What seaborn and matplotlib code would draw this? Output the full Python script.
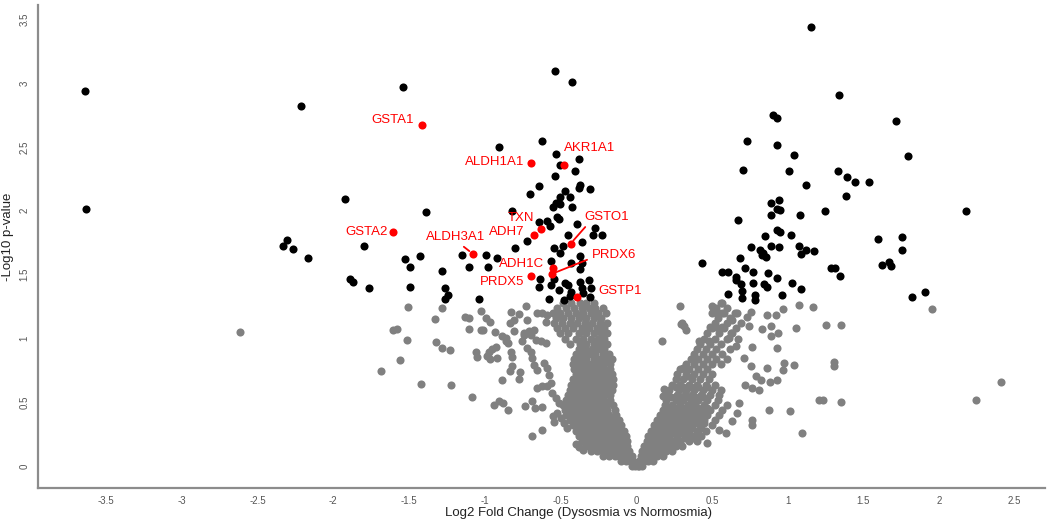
import matplotlib
matplotlib.use("Agg")
import pandas as pd
import matplotlib.pyplot as plt
import seaborn as sns
from matplotlib import font_manager

# ---- data (log2 FC, -log10 p) ----
# highlighted genes (red)
genes = ["GSTA1", "ALDH1A1", "AKR1A1", "TXN", "ADH7", "GSTO1",
         "GSTA2", "ALDH3A1", "ADH1C", "PRDX6", "PRDX5", "GSTP1"]
gene_fc = [-1.417, -0.695, -0.474, -0.631, -0.675, -0.433,
           -1.608, -1.080, -0.552, -0.558, -0.697, -0.388]
gene_p = [2.669, 2.373, 2.357, 1.860, 1.808, 1.742,
          1.836, 1.664, 1.555, 1.505, 1.490, 1.326]

# significant (black), p < 0.05
sig_pts = [
    (-3.638, 2.935), (-3.631, 2.013), (-2.211, 2.818), (-1.921, 2.091), (-2.304, 1.771),
    (-2.335, 1.727), (-2.264, 1.700), (-1.798, 1.722), (-2.168, 1.628), (-1.892, 1.466),
    (-1.868, 1.440), (-1.765, 1.398), (-1.542, 2.969), (-1.390, 1.990), (-1.527, 1.623),
    (-1.428, 1.646), (-1.496, 1.563), (-1.285, 1.531), (-1.491, 1.406), (-1.263, 1.398),
    (-1.240, 1.344), (-1.263, 1.313), (-1.148, 1.654), (-0.992, 1.654), (-0.917, 1.628),
    (-1.104, 1.563), (-0.979, 1.563), (-1.036, 1.308), (-0.906, 2.498),
    (-0.534, 3.097), (-0.421, 3.011), (-0.620, 2.547), (-0.527, 2.446), (-0.505, 2.355),
    (-0.378, 2.401), (-0.406, 2.310), (-0.536, 2.269), (-0.642, 2.195), (-0.699, 2.133),
    (-0.371, 2.201), (-0.378, 2.180), (-0.307, 2.167), (-0.470, 2.151), (-0.505, 2.109),
    (-0.435, 2.107), (-0.532, 2.060), (-0.505, 2.050), (-0.549, 2.029), (-0.421, 2.031),
    (-0.820, 1.998), (-0.523, 1.953), (-0.512, 1.935), (-0.642, 1.914), (-0.587, 1.922),
    (-0.569, 1.880), (-0.721, 1.763), (-0.393, 1.898), (-0.269, 1.865), (-0.285, 1.810),
    (-0.228, 1.813), (-0.450, 1.808), (-0.358, 1.755), (-0.485, 1.727), (-0.543, 1.706),
    (-0.800, 1.711), (-0.563, 1.609), (-0.503, 1.672), (-0.369, 1.649), (-0.433, 1.594),
    (-0.355, 1.594), (-0.369, 1.542), (-0.633, 1.466), (-0.543, 1.466), (-0.470, 1.438),
    (-0.450, 1.420), (-0.373, 1.445), (-0.312, 1.459), (-0.565, 1.420), (-0.642, 1.406),
    (-0.510, 1.380), (-0.431, 1.362), (-0.360, 1.393), (-0.300, 1.393), (-0.351, 1.354),
    (-0.576, 1.313), (-0.474, 1.302), (-0.439, 1.331), (-0.303, 1.328), (0.433, 1.594),
    (1.157, 3.440), (1.342, 2.909), (0.906, 2.748), (0.928, 2.724), (1.719, 2.706),
    (0.734, 2.547), (0.928, 2.513), (1.042, 2.438), (1.798, 2.427), (0.708, 2.318),
    (1.007, 2.310), (1.333, 2.310), (1.392, 2.261), (1.443, 2.227), (1.540, 2.227),
    (1.121, 2.201), (1.386, 2.115), (0.893, 2.058), (0.943, 2.081), (0.928, 2.013),
    (0.950, 2.005), (0.893, 1.964), (0.670, 1.930), (1.085, 1.964), (1.250, 1.998),
    (2.176, 1.998), (0.932, 1.847), (0.950, 1.831), (0.849, 1.800), (1.024, 1.810),
    (1.597, 1.779), (1.756, 1.795), (0.756, 1.719), (0.893, 1.727), (0.943, 1.714),
    (1.078, 1.727), (0.818, 1.693), (0.840, 1.667), (0.855, 1.641), (0.829, 1.654),
    (1.120, 1.693), (1.177, 1.685), (1.087, 1.661), (1.756, 1.693), (0.686, 1.628),
    (0.565, 1.519), (0.604, 1.519), (0.717, 1.550), (0.774, 1.524), (0.870, 1.516),
    (0.657, 1.484), (0.662, 1.459), (0.933, 1.472), (0.695, 1.425), (0.772, 1.433),
    (0.844, 1.425), (0.862, 1.406), (1.027, 1.433), (1.087, 1.388), (0.699, 1.373),
    (0.606, 1.349), (0.785, 1.341), (0.785, 1.305), (0.699, 1.315), (0.963, 1.341),
    (1.285, 1.550), (1.313, 1.550), (1.349, 1.492), (1.626, 1.576), (1.668, 1.597),
    (1.686, 1.566), (1.820, 1.328), (1.910, 1.365),
]

# not significant (grey): scattered points
ns_scatter = [
    (-2.619, 1.052), (-1.688, 0.748), (-1.604, 1.063), (-1.577, 1.073), (-1.511, 0.990),
    (-1.562, 0.834), (-1.419, 0.646), (-1.225, 0.633), (-1.505, 1.245), (-1.285, 1.242),
    (-1.329, 1.154), (-1.131, 1.172), (-1.102, 1.159), (-1.027, 1.219), (-0.994, 1.164),
    (-0.968, 1.133), (-1.104, 1.073), (-1.027, 1.068), (-1.320, 0.969), (-1.280, 0.925),
    (-1.232, 0.911), (-1.087, 0.539), (-1.056, 0.898), (-1.049, 0.859), (-1.012, 1.063),
    (-0.933, 1.047), (-0.884, 1.016), (-0.862, 0.982), (-0.847, 0.964), (-0.972, 0.898),
    (-0.950, 0.917), (-0.928, 0.930), (-0.987, 0.865), (-0.966, 0.839), (-0.917, 0.847),
    (-0.829, 0.891), (-0.822, 0.852), (-0.888, 0.672), (-0.822, 0.787), (-0.834, 0.748),
    (-0.767, 0.734), (-0.774, 0.683), (-0.939, 0.482), (-0.906, 0.513), (-0.877, 0.495),
    (-0.844, 0.438), (-0.734, 0.469), (-0.690, 0.240), (-0.620, 0.287), (-0.690, 0.513),
    (-0.668, 0.456), (-0.624, 0.464), (-0.547, 0.391), (-0.543, 0.347), (-0.400, 0.177),
    (-0.378, 0.148), (-0.349, 0.125), (-0.653, 0.612), (-0.620, 0.625), (-0.587, 0.625),
    (-0.829, 1.211), (-0.774, 1.193), (-0.834, 1.125), (-0.807, 1.146), (-0.730, 1.255),
    (-0.719, 1.146), (-0.741, 1.042), (-0.708, 1.055), (-0.675, 1.068), (-0.752, 0.977),
    (-0.719, 0.925), (-0.697, 0.898), (-0.664, 0.990), (-0.631, 0.977), (-0.598, 0.964),
    (-0.686, 0.847), (-0.675, 0.795), (-0.653, 0.755), (-0.609, 0.808), (-0.587, 0.769),
    (-0.576, 0.716), (-0.565, 0.652), (-0.554, 0.573), (-0.532, 0.534), (-0.510, 0.495),
    (-0.521, 0.417), (-0.499, 0.378), (-0.477, 0.339), (-0.455, 0.300), (-0.653, 1.203),
    (-0.620, 1.198), (-0.587, 1.185), (-0.598, 1.133), (-0.807, 1.055), (-0.741, 1.029),
    (-0.697, 1.029), (-0.862, 1.003),
    (0.507, 1.237), (0.569, 1.281), (0.536, 1.203), (0.580, 1.203), (0.635, 1.146),
    (0.668, 1.198), (0.734, 1.172), (0.756, 1.211), (0.862, 1.185), (0.921, 1.185),
    (0.972, 1.230), (1.078, 1.263), (1.170, 1.245), (0.487, 1.089), (0.525, 1.089),
    (0.569, 1.089), (0.829, 1.076), (0.893, 1.094), (0.745, 1.094), (1.055, 1.086),
    (1.256, 1.102), (1.355, 1.102), (0.893, 1.023), (0.936, 1.042), (0.613, 1.003),
    (0.657, 0.938), (0.767, 0.933), (0.928, 0.925), (0.712, 0.847), (0.976, 0.808),
    (0.970, 0.755), (1.042, 0.789), (1.306, 0.820), (1.306, 0.781), (0.862, 0.769),
    (0.756, 0.781), (0.789, 0.703), (0.822, 0.677), (0.884, 0.656), (0.928, 0.672),
    (0.767, 0.612), (0.811, 0.594), (0.719, 0.638), (1.208, 0.521), (1.234, 0.521),
    (1.355, 0.503), (0.877, 0.443), (1.014, 0.435), (0.679, 0.495), (0.668, 0.417),
    (0.635, 0.352), (0.763, 0.365), (0.763, 0.326), (1.098, 0.261), (0.547, 0.287),
    (0.591, 0.261), (0.470, 0.182), (0.289, 1.255), (0.173, 0.984), (0.294, 1.115),
    (0.327, 1.068), (0.415, 0.977), (0.481, 0.984), (0.305, 1.120), (0.316, 1.094),
    (0.184, 0.607), (0.180, 0.547), (0.312, 0.769), (0.338, 0.703), (0.503, 1.255),
    (0.532, 1.211), (0.558, 1.276), (0.624, 1.042), (1.954, 1.230), (2.410, 0.656),
    (2.242, 0.521),
]

# not significant (grey): the dense core of the V, row by row (-log10 p, [log2 FC])
ns_core_left = [
    (0.00, [-0.03, -0.01, 0.01]),
    (0.04, [-0.10, -0.07, -0.04, -0.02]),
    (0.08, [-0.22, -0.18, -0.14, -0.11, -0.08, -0.05, -0.03]),
    (0.12, [-0.30, -0.26, -0.22, -0.19, -0.15, -0.12, -0.09, -0.05]),
    (0.16, [-0.33, -0.29, -0.26, -0.22, -0.18, -0.14, -0.10, -0.06]),
    (0.20, [-0.36, -0.33, -0.29, -0.25, -0.21, -0.17, -0.13, -0.09, -0.06]),
    (0.24, [-0.38, -0.34, -0.30, -0.27, -0.23, -0.19, -0.15, -0.11, -0.07]),
    (0.28, [-0.40, -0.36, -0.32, -0.28, -0.24, -0.20, -0.16, -0.12, -0.08]),
    (0.32, [-0.42, -0.38, -0.34, -0.30, -0.26, -0.22, -0.18, -0.14, -0.10]),
    (0.36, [-0.44, -0.40, -0.36, -0.32, -0.28, -0.24, -0.20, -0.16, -0.11]),
    (0.40, [-0.46, -0.42, -0.38, -0.34, -0.30, -0.26, -0.22, -0.18, -0.13]),
    (0.44, [-0.47, -0.43, -0.39, -0.35, -0.31, -0.27, -0.23, -0.19, -0.14]),
    (0.48, [-0.48, -0.44, -0.40, -0.36, -0.32, -0.28, -0.24, -0.20, -0.15]),
    (0.52, [-0.46, -0.42, -0.38, -0.34, -0.30, -0.26, -0.22, -0.17]),
    (0.56, [-0.45, -0.41, -0.37, -0.33, -0.29, -0.25, -0.21, -0.17]),
    (0.60, [-0.44, -0.40, -0.36, -0.32, -0.28, -0.24, -0.20, -0.16]),
    (0.64, [-0.43, -0.39, -0.35, -0.31, -0.27, -0.23, -0.19, -0.15]),
    (0.68, [-0.42, -0.38, -0.34, -0.30, -0.26, -0.22, -0.18, -0.15]),
    (0.72, [-0.40, -0.36, -0.32, -0.28, -0.24, -0.20, -0.16]),
    (0.76, [-0.41, -0.37, -0.33, -0.29, -0.25, -0.21, -0.17]),
    (0.80, [-0.42, -0.38, -0.34, -0.30, -0.26, -0.22, -0.17]),
    (0.84, [-0.41, -0.37, -0.33, -0.28, -0.24, -0.20, -0.16]),
    (0.88, [-0.40, -0.36, -0.31, -0.27, -0.22, -0.18]),
    (0.92, [-0.38, -0.34, -0.29, -0.25, -0.21]),
    (0.96, [-0.44, -0.37, -0.33, -0.28, -0.23, -0.19]),
    (1.00, [-0.47, -0.40, -0.35, -0.30, -0.25, -0.21]),
    (1.04, [-0.50, -0.45, -0.38, -0.33, -0.28, -0.23, -0.19]),
    (1.08, [-0.52, -0.47, -0.42, -0.36, -0.31, -0.26, -0.21]),
    (1.12, [-0.54, -0.49, -0.44, -0.39, -0.34, -0.29, -0.24, -0.19]),
    (1.16, [-0.53, -0.48, -0.43, -0.38, -0.33, -0.28, -0.23]),
    (1.20, [-0.55, -0.50, -0.45, -0.40, -0.35, -0.30, -0.25, -0.20]),
    (1.24, [-0.52, -0.46, -0.41, -0.36, -0.31, -0.27, -0.22]),
    (1.28, [-0.48, -0.43, -0.37, -0.33, -0.28]),
]
ns_core_right = [
    (0.00, [0.02, 0.04]),
    (0.04, [0.02, 0.05, 0.08, 0.11]),
    (0.08, [0.03, 0.06, 0.10, 0.14, 0.18]),
    (0.10, [0.08, 0.12, 0.16]),
    (0.12, [0.04, 0.08, 0.12, 0.16, 0.20, 0.24]),
    (0.14, [0.07, 0.11, 0.15, 0.19, 0.23]),
    (0.16, [0.05, 0.09, 0.13, 0.17, 0.21, 0.26, 0.30]),
    (0.18, [0.08, 0.12, 0.16, 0.20, 0.24, 0.28]),
    (0.20, [0.07, 0.11, 0.15, 0.19, 0.24, 0.29, 0.35, 0.40]),
    (0.22, [0.10, 0.14, 0.18, 0.22, 0.27, 0.32, 0.37]),
    (0.24, [0.08, 0.12, 0.17, 0.22, 0.27, 0.32, 0.38, 0.43]),
    (0.26, [0.11, 0.15, 0.20, 0.25, 0.30, 0.35, 0.41]),
    (0.28, [0.10, 0.14, 0.19, 0.24, 0.29, 0.34, 0.40, 0.46]),
    (0.30, [0.13, 0.17, 0.22, 0.27, 0.32, 0.37, 0.43]),
    (0.32, [0.12, 0.16, 0.21, 0.26, 0.31, 0.36, 0.42, 0.50]),
    (0.34, [0.15, 0.19, 0.24, 0.29, 0.34, 0.39, 0.45]),
    (0.36, [0.14, 0.19, 0.23, 0.28, 0.33, 0.39, 0.45, 0.52]),
    (0.38, [0.17, 0.21, 0.26, 0.31, 0.36, 0.42]),
    (0.40, [0.16, 0.21, 0.26, 0.30, 0.35, 0.41, 0.47, 0.55]),
    (0.42, [0.19, 0.24, 0.29, 0.34, 0.39, 0.45]),
    (0.44, [0.18, 0.23, 0.28, 0.32, 0.37, 0.43, 0.49, 0.57]),
    (0.46, [0.21, 0.26, 0.31, 0.36, 0.41, 0.47]),
    (0.48, [0.19, 0.24, 0.29, 0.34, 0.39, 0.45, 0.52, 0.60]),
    (0.52, [0.20, 0.26, 0.31, 0.36, 0.41, 0.47, 0.54]),
    (0.54, [0.23, 0.29, 0.34, 0.39, 0.44]),
    (0.56, [0.21, 0.27, 0.32, 0.37, 0.43, 0.49, 0.55]),
    (0.60, [0.22, 0.28, 0.33, 0.38, 0.44, 0.50, 0.56]),
    (0.62, [0.26, 0.31, 0.36, 0.41, 0.47]),
    (0.64, [0.24, 0.29, 0.35, 0.40, 0.46, 0.52]),
    (0.68, [0.26, 0.31, 0.37, 0.42, 0.48]),
    (0.72, [0.27, 0.33, 0.38, 0.44, 0.50]),
    (0.76, [0.29, 0.35, 0.41, 0.47]),
    (0.80, [0.33, 0.38, 0.44, 0.50, 0.56]),
    (0.84, [0.36, 0.41, 0.47, 0.53, 0.60]),
    (0.88, [0.38, 0.44, 0.50, 0.57]),
    (0.92, [0.40, 0.46, 0.53, 0.62]),
    (0.96, [0.42, 0.49, 0.56]),
    (1.00, [0.45, 0.52, 0.60, 0.67]),
    (1.04, [0.47, 0.55, 0.63]),
    (1.08, [0.50, 0.58, 0.66]),
    (1.12, [0.52, 0.60, 0.69]),
    (1.16, [0.54, 0.62]),
    (1.20, [0.50, 0.57, 0.65]),
    (1.24, [0.53, 0.60]),
]

x_ticks = [-3.5, -3, -2.5, -2, -1.5, -1, -0.5, 0, 0.5, 1, 1.5, 2, 2.5]
y_ticks = [0, 0.5, 1, 1.5, 2, 2.5, 3, 3.5]

# label placement (offset of the text from its point, in pixels) and leader lines
label_style = {
    "GSTA1":   dict(off=(-8, 5), ha="right"),
    "ALDH1A1": dict(off=(-7, 1), ha="right"),
    "AKR1A1":  dict(off=(0, 17), ha="left"),
    "TXN":     dict(off=(-6, 11), ha="right"),
    "ADH7":    dict(off=(-9, 3), ha="right"),
    "GSTO1":   dict(off=(14, 27), ha="left", line=(0.1, 0.0)),
    "GSTA2":   dict(off=(-5, 0), ha="right"),
    "ALDH3A1": dict(off=(-17, 17), ha="center", line=(0.55, 0.0)),
    "ADH1C":   dict(off=(-8, 4), ha="right"),
    "PRDX6":   dict(off=(40, 19), ha="left", line=(0.0, 0.25)),
    "PRDX5":   dict(off=(-6, -6), ha="right"),
    "GSTP1":   dict(off=(21, 6), ha="left"),
}

# ---- build table ----
rows = []
for x, y in ns_scatter:
    rows.append((x, y, "ns"))
for y, xs in ns_core_left + ns_core_right:
    for x in xs:
        rows.append((x, y, "ns"))
for x, y in sig_pts:
    rows.append((x, y, "sig"))
for g, x, y in zip(genes, gene_fc, gene_p):
    rows.append((x, y, "hl"))
df = pd.DataFrame(rows, columns=["fc", "logp", "group"])

# ---- plot ----
sns.set_style("white")
plt.rcParams["font.family"] = ["Liberation Sans", "DejaVu Sans"]
names = {f.name for f in font_manager.fontManager.ttflist}
tick_font = "Liberation Sans Narrow" if "Liberation Sans Narrow" in names else "Liberation Sans"

fig = plt.figure(figsize=(10.5, 5.24), dpi=100)
ax = fig.add_axes([38 / 1050, 36 / 524, 1007 / 1050, 483 / 524])

colors = {"ns": "#808080", "sig": "#000000", "hl": "#ff0000"}
for z, grp in enumerate(["ns", "sig", "hl"]):
    sns.scatterplot(data=df[df["group"] == grp], x="fc", y="logp", color=colors[grp],
                    s=34, linewidth=0, legend=False, ax=ax, zorder=2 + z)

for g, x, y in zip(genes, gene_fc, gene_p):
    st = label_style[g]
    kw = {}
    if "line" in st:
        kw["arrowprops"] = dict(arrowstyle="-", color="#ff0000", lw=1.3,
                                shrinkA=1, shrinkB=3, relpos=st["line"])
    ax.annotate(g, xy=(x, y), xytext=st["off"], textcoords="offset pixels",
                ha=st["ha"], va="center", color="#ff0000", fontsize=9.5, zorder=6, **kw)

ax.set_xlim(-3.95, 2.70)
ax.set_ylim(-0.17, 3.61)
ax.set_xticks(x_ticks)
ax.set_yticks(y_ticks)
ax.set_xticklabels([f"{t:g}" for t in x_ticks], fontsize=7, family=tick_font, color="#555555")
ax.set_yticklabels([f"{t:g}" for t in y_ticks], fontsize=7, family=tick_font, color="#555555",
                   rotation=90, va="center")
ax.tick_params(axis="both", direction="out", length=4, width=1, color="#777777", pad=2)

for side in ["top", "right"]:
    ax.spines[side].set_visible(False)
for side in ["left", "bottom"]:
    ax.spines[side].set_color("#8c8c8c")
    ax.spines[side].set_linewidth(1.6)

ax.set_xlabel("Log2 Fold Change (Dysosmia vs Normosmia)", fontsize=9.5, color="#222222")
ax.set_ylabel("-Log10 p-value", fontsize=9.5, color="#222222")
ax.xaxis.set_label_coords(0.537, -0.040)
ax.yaxis.set_label_coords(-0.024, 0.52)

fig.savefig("out.png", dpi=100)
